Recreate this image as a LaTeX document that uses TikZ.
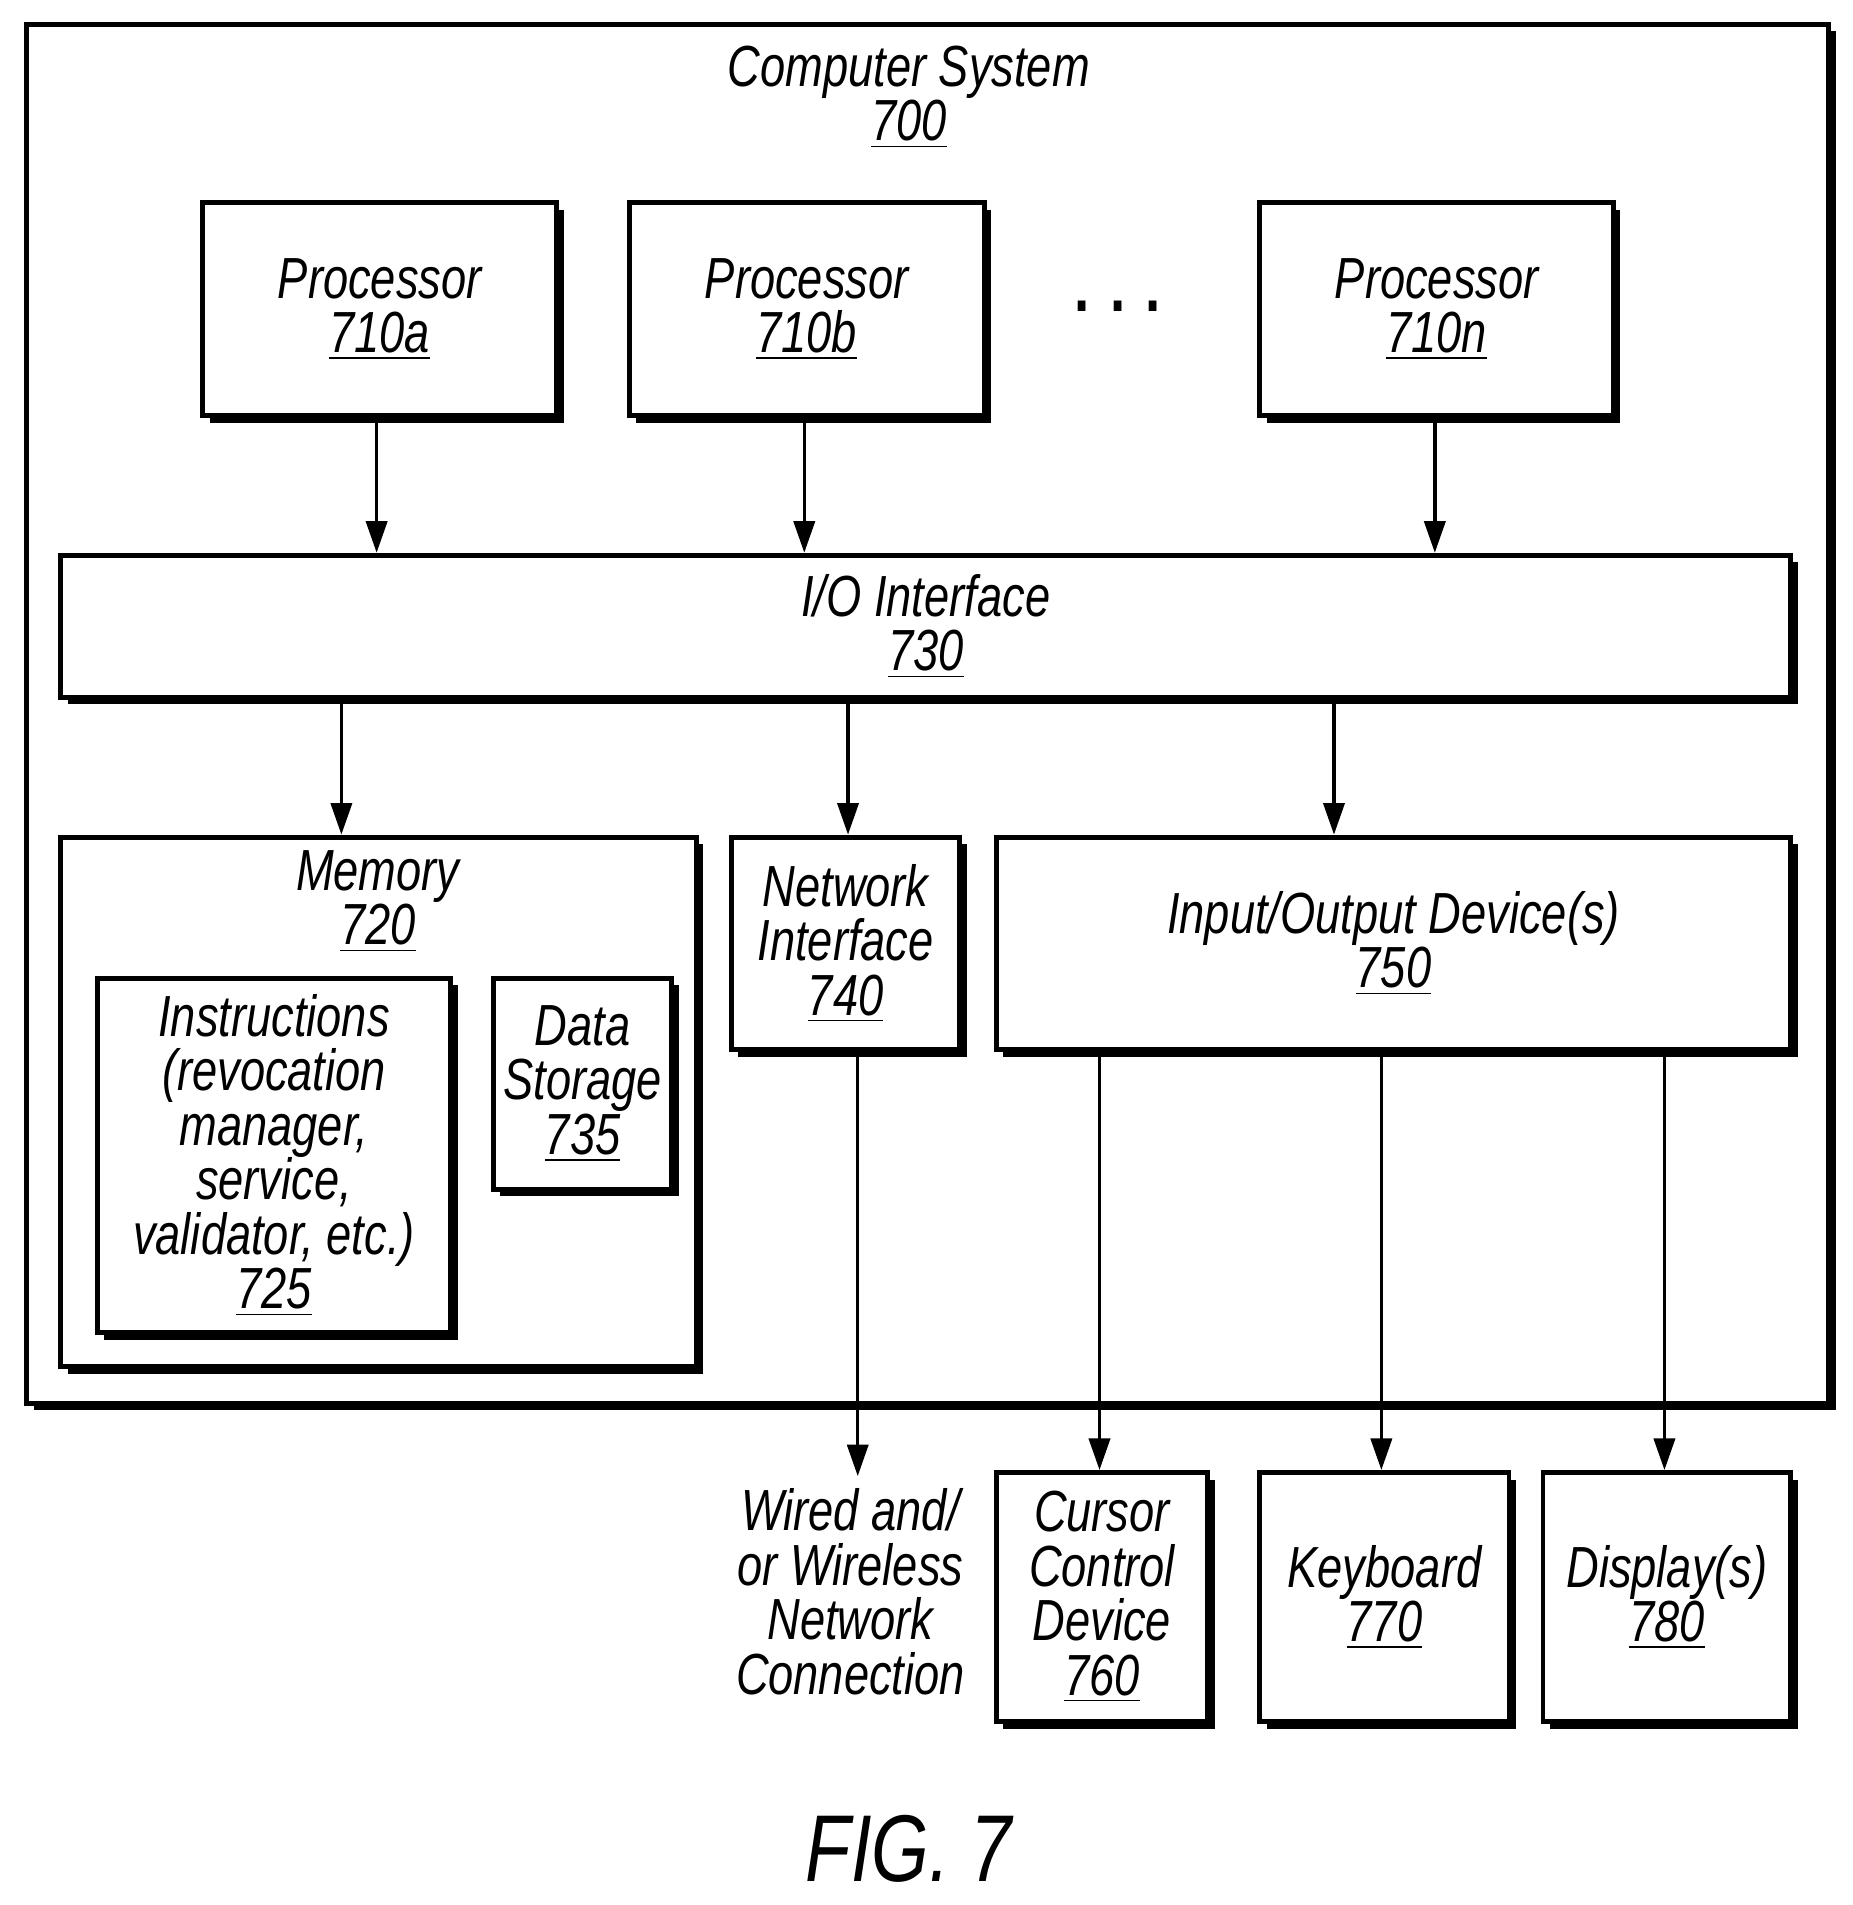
\documentclass[tikz,border=0pt]{standalone}
\usepackage{fontspec}
\setmainfont{Liberation Sans}[FakeStretch=0.78]
\usetikzlibrary{arrows.meta,shadows}
\newcommand\px{0.012144cm}
\tikzset{
  box/.style={draw, line width=1.4pt, fill=white, anchor=north west, inner sep=0pt,
    drop shadow={shadow xshift=2pt, shadow yshift=-2pt, fill=black, opacity=1}},
  lbl/.style={font=\fontsize{16.5}{15.5}\selectfont\itshape, align=center},
  arr/.style={-{Triangle[length=9pt,width=6pt]}, line width=1pt}
}
\begin{document}
\begin{tikzpicture}[x=\px, y=-\px]
  \useasboundingbox (0,0) rectangle (1525,1568);
  % outer system
  \node[box, minimum width=1483*\px, minimum height=1135*\px] (sys) at (20,18) {};
  \node[lbl] (systxt) at (748,80) {Computer System\\\underline{700}};
  % processors
  \node[box, minimum width=291*\px, minimum height=175*\px] (pa) at (165,165) {};
  \node[lbl] at (pa.center) {Processor\\\underline{710a}};
  \node[box, minimum width=292*\px, minimum height=175*\px] (pb) at (516,165) {};
  \node[lbl] at (pb.center) {Processor\\\underline{710b}};
  \node[box, minimum width=291*\px, minimum height=175*\px] (pn) at (1035,165) {};
  \node[lbl] at (pn.center) {Processor\\\underline{710n}};
  \node[font=\fontsize{20}{20}\selectfont\bfseries] (dots) at (920,252) {. . .};
  % I/O interface
  \node[box, minimum width=1424*\px, minimum height=117*\px] (io) at (48,455) {};
  \node[lbl] at (io.center) {I/O Interface\\\underline{730}};
  % memory
  \node[box, minimum width=523*\px, minimum height=436*\px] (mem) at (48,687) {};
  \node[lbl] at (311,742) {Memory\\\underline{720}};
  \node[box, minimum width=291*\px, minimum height=292*\px] (ins) at (78,803) {};
  \node[lbl] at (ins.center) {Instructions\\(revocation\\manager,\\service,\\validator, etc.)\\\underline{725}};
  \node[box, minimum width=147*\px, minimum height=174*\px] (ds) at (404,803) {};
  \node[lbl] at (ds.center) {Data\\Storage\\\underline{735}};
  % network interface and devices
  \node[box, minimum width=188*\px, minimum height=175*\px] (net) at (600,687) {};
  \node[lbl] at (net.center) {Network\\Interface\\\underline{740}};
  \node[box, minimum width=654*\px, minimum height=175*\px] (iod) at (818,687) {};
  \node[lbl] at (iod.center) {Input/Output Device(s)\\\underline{750}};
  \node[box, minimum width=174*\px, minimum height=205*\px] (cur) at (818,1210) {};
  \node[lbl] at (cur.center) {Cursor\\Control\\Device\\\underline{760}};
  \node[box, minimum width=205*\px, minimum height=205*\px] (kbd) at (1035,1210) {};
  \node[lbl] at (kbd.center) {Keyboard\\\underline{770}};
  \node[box, minimum width=204*\px, minimum height=205*\px] (dsp) at (1268,1210) {};
  \node[lbl] at (dsp.center) {Display(s)\\\underline{780}};
  \node[lbl, anchor=north] (wire) at (700,1215) {Wired and/\\or Wireless\\Network\\Connection};
  \node[font=\fontsize{27}{27}\selectfont\itshape] (fig) at (748,1522) {FIG. 7};
  % connectors
  \draw[arr] (pa.south -| 310,0) -- (io.north -| 310,0);
  \draw[arr] (pb.south -| 662,0) -- (io.north -| 662,0);
  \draw[arr] (pn.south -| 1181,0) -- (io.north -| 1181,0);
  \draw[arr] (io.south -| 281,0) -- (mem.north -| 281,0);
  \draw[arr] (io.south -| 698,0) -- (net.north -| 698,0);
  \draw[arr] (io.south -| 1098,0) -- (iod.north -| 1098,0);
  \draw[arr] (net.south -| 706,0) -- (wire.north -| 706,0);
  \draw[arr] (iod.south -| 905,0) -- (cur.north -| 905,0);
  \draw[arr] (iod.south -| 1137,0) -- (kbd.north -| 1137,0);
  \draw[arr] (iod.south -| 1370,0) -- (dsp.north -| 1370,0);
\end{tikzpicture}
\end{document}
